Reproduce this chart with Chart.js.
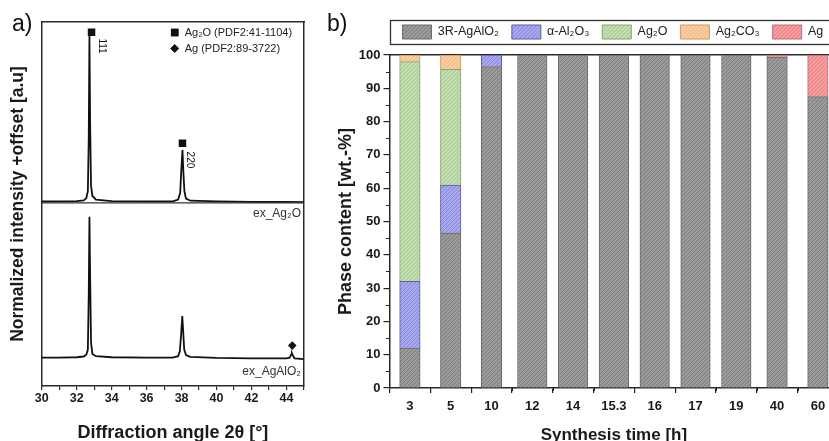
<!DOCTYPE html>
<html><head><meta charset="utf-8">
<script src="https://cdn.jsdelivr.net/npm/chart.js@4.4.1/dist/chart.umd.min.js"></script>
<style>
html,body{margin:0;padding:0;width:829px;height:441px;overflow:hidden;background:#fff;}
#ca{position:absolute;left:0;top:0;}
#cb{position:absolute;left:330px;top:0;}
.lab{position:absolute;font-family:"Liberation Sans",Arial,sans-serif;font-size:23px;color:#111;line-height:1;}
</style></head><body>
<canvas id="ca" width="330" height="441"></canvas>
<canvas id="cb" width="515" height="441"></canvas>
<div class="lab" style="left:12px;top:12px">a)</div>
<div class="lab" style="left:327px;top:12px">b)</div>
<script>
// ---------- Panel a: XRD patterns (2θ in °, normalized intensity + offset) ----------
const ag2oAngle     = [30, 31, 32, 32.4, 32.55, 32.64, 32.69, 32.73, 32.77, 32.82, 32.9, 33.1, 34, 36, 37.5, 37.8, 37.92, 37.98, 38.05, 38.1, 38.16, 38.25, 38.5, 40, 42, 44, 45];
const ag2oIntensity = [0.507, 0.507, 0.508, 0.510, 0.516, 0.535, 0.68, 0.964, 0.72, 0.55, 0.522, 0.512, 0.508, 0.507, 0.507, 0.512, 0.53, 0.59, 0.648, 0.59, 0.535, 0.515, 0.509, 0.507, 0.506, 0.506, 0.505];
const agalo2Angle     = [30, 31, 32, 32.4, 32.55, 32.64, 32.69, 32.73, 32.77, 32.82, 32.9, 33.1, 34, 36, 37.5, 37.8, 37.9, 37.97, 38.04, 38.09, 38.15, 38.25, 38.5, 40, 42, 44, 44.18, 44.26, 44.31, 44.37, 44.46, 45];
const agalo2Intensity = [0.078, 0.078, 0.079, 0.081, 0.086, 0.10, 0.25, 0.465, 0.30, 0.12, 0.088, 0.082, 0.079, 0.078, 0.078, 0.082, 0.095, 0.14, 0.192, 0.15, 0.10, 0.085, 0.080, 0.077, 0.076, 0.076, 0.078, 0.086, 0.090, 0.083, 0.076, 0.074];
const refAg2OAngle  = [32.85, 38.05];
const refAg2OHeight = [0.972, 0.667];
const refAgAngle    = [44.33];
const refAgHeight   = [0.111];
const reflexLabels  = ['111', '220'];
const patternNames  = ['ex_Ag₂O', 'ex_AgAlO₂'];
const refLegend     = ['Ag₂O (PDF2:41-1104)', 'Ag (PDF2:89-3722)'];

// ---------- Panel b: phase content (wt.-%) ----------
const synthesisTimes = ['3', '5', '10', '12', '14', '15.3', '16', '17', '19', '40', '60'];
const phaseNames = ['3R-AgAlO₂', 'α-Al₂O₃', 'Ag₂O', 'Ag₂CO₃', 'Ag'];
const agalo2Phase = [12, 46.5, 96.5, 100, 100, 100, 100, 100, 100, 99.4, 87.5];
const aluminaPhase = [20, 14.4, 3.5, 0, 0, 0, 0, 0, 0, 0, 0];
const ag2oPhase = [66, 34.8, 0, 0, 0, 0, 0, 0, 0, 0, 0];
const ag2co3Phase = [2, 4.3, 0, 0, 0, 0, 0, 0, 0, 0, 0];
const silverPhase = [0, 0, 0, 0, 0, 0, 0, 0, 0, 0.6, 12.5];
const narrowBar = [true, true, true, false, false, false, false, false, false, true, true];
const yMinorTicks = [5, 15, 25, 35, 45, 55, 65, 75, 85, 95];

const F = '"Liberation Sans", Arial, Helvetica, sans-serif';
const INK = '#1a1a1a';

function hatch(bg, fg) {
  const c = document.createElement('canvas'); c.width = 4; c.height = 4;
  const g = c.getContext('2d');
  g.fillStyle = bg; g.fillRect(0, 0, 4, 4);
  g.strokeStyle = fg; g.lineWidth = 1;
  g.beginPath();
  g.moveTo(0, 4); g.lineTo(4, 0);
  g.moveTo(-1, 1); g.lineTo(1, -1);
  g.moveTo(3, 5); g.lineTo(5, 3);
  g.stroke();
  return g.createPattern(c, 'repeat');
}

// ---------------- Chart a ----------------
const annotA = {
  id: 'annotA',
  afterDraw(chart) {
    const {ctx, chartArea: ca, scales: {x, y}} = chart;
    ctx.save();
    // divider between the stacked patterns
    ctx.strokeStyle = '#333'; ctx.lineWidth = 1.3;
    const dy = y.getPixelForValue(0.503);
    ctx.beginPath(); ctx.moveTo(ca.left, dy); ctx.lineTo(ca.right, dy); ctx.stroke();
    // reflex labels (rotated)
    ctx.fillStyle = '#111'; ctx.font = '10px ' + F; ctx.textAlign = 'center'; ctx.textBaseline = 'middle';
    [[33.45, 0.934], [38.45, 0.621]].forEach((p, i) => {
      ctx.save();
      ctx.translate(x.getPixelForValue(p[0]), y.getPixelForValue(p[1]));
      ctx.rotate(Math.PI / 2);
      ctx.fillText(reflexLabels[i], 0, 0);
      ctx.restore();
    });
    // pattern names
    ctx.fillStyle = '#333'; ctx.font = '12px ' + F; ctx.textAlign = 'right';
    ctx.fillText(patternNames[0], ca.right - 3, y.getPixelForValue(0.474));
    ctx.fillText(patternNames[1], ca.right - 3, y.getPixelForValue(0.040));
    // legend
    const lx = ca.left + 133, ly = ca.top + 10.5;
    ctx.fillStyle = '#111';
    Chart.helpers.drawPoint(ctx, {pointStyle: 'rect', radius: 5.3, borderWidth: 0}, lx, ly);
    ctx.fill();
    Chart.helpers.drawPoint(ctx, {pointStyle: 'rectRot', radius: 4.3, borderWidth: 0}, lx, ly + 16);
    ctx.fill();
    ctx.fillStyle = '#222'; ctx.font = '11px ' + F; ctx.textAlign = 'left';
    ctx.fillText(refLegend[0], lx + 10, ly + 0.5);
    ctx.fillText(refLegend[1], lx + 10, ly + 16.5);
    ctx.restore();
  }
};

const axisBorder = {display: true, color: '#2a2a2a', width: 1.5};

new Chart(document.getElementById('ca'), {
  type: 'line',
  data: {
    datasets: [
      {data: ag2oAngle.map((v, i) => ({x: v, y: ag2oIntensity[i]})), borderColor: '#111', borderWidth: 1.8, pointRadius: 0, tension: 0},
      {data: agalo2Angle.map((v, i) => ({x: v, y: agalo2Intensity[i]})), borderColor: '#111', borderWidth: 1.8, pointRadius: 0, tension: 0},
      {data: refAg2OAngle.map((v, i) => ({x: v, y: refAg2OHeight[i]})), showLine: false, pointStyle: 'rect', pointRadius: 5.3, pointBorderWidth: 0, backgroundColor: '#111', borderColor: '#111'},
      {data: refAgAngle.map((v, i) => ({x: v, y: refAgHeight[i]})), showLine: false, pointStyle: 'rectRot', pointRadius: 4.3, pointBorderWidth: 0, backgroundColor: '#111', borderColor: '#111'}
    ]
  },
  options: {
    responsive: false, animation: false, events: [],
    layout: {padding: {top: 22, right: 26, left: 0, bottom: 0}},
    plugins: {legend: {display: false}, tooltip: {enabled: false}},
    scales: {
      x: {
        type: 'linear', min: 30, max: 45,
        ticks: {stepSize: 1, autoSkip: false, maxRotation: 0, padding: 1, color: INK,
          font: {family: F, size: 12.5, weight: 'bold'},
          callback: v => (v % 2 === 0 ? String(v) : '')},
        grid: {display: true, drawOnChartArea: false, tickLength: 4, color: '#2a2a2a', lineWidth: 1.2},
        border: axisBorder,
        title: {display: true, text: 'Diffraction angle 2θ [°]', color: INK,
          font: {family: F, size: 18, weight: 'bold', lineHeight: 0.9}, padding: {top: 0, bottom: 0}},
        afterFit: s => { s.height = 55; }
      },
      xTop: {
        type: 'linear', position: 'top', min: 30, max: 45,
        ticks: {display: false}, grid: {display: false}, border: axisBorder,
        afterFit: s => { s.height = 0; }
      },
      y: {
        type: 'linear', min: 0, max: 1,
        ticks: {display: false}, grid: {display: false}, border: axisBorder,
        title: {display: true, text: 'Normalized intensity +offset [a.u]', color: INK,
          font: {family: F, size: 17.5, weight: 'bold'}, padding: {top: 8, bottom: 0}},
        afterFit: s => { s.width = 41.7; }
      },
      yRight: {
        type: 'linear', position: 'right', min: 0, max: 1,
        ticks: {display: false}, grid: {display: false}, border: axisBorder,
        afterFit: s => { s.width = 0; }
      }
    }
  },
  plugins: [annotA]
});

// ---------------- Chart b ----------------
const fills = [
  hatch('#9b9b9b', '#7b7b7b'),
  hatch('#a8a8f0', '#8686d6'),
  hatch('#c2deae', '#a5c992'),
  hatch('#fccc9c', '#f0b683'),
  hatch('#f69c9f', '#e78287')
];
const edges = ['#6a6a6a', '#5c5ca0', '#86a472', '#c89a6a', '#c06a70'];
const seriesB = [agalo2Phase, aluminaPhase, ag2oPhase, ag2co3Phase, silverPhase];

const datasetsB = [];
seriesB.forEach((vals, k) => {
  [true, false].forEach(narrow => {
    datasetsB.push({
      label: phaseNames[k],
      data: vals.map((v, i) => (narrowBar[i] === narrow && v > 0 ? v : null)),
      backgroundColor: fills[k],
      borderColor: edges[k],
      borderWidth: 1,
      barThickness: narrow ? 20.5 : 29.5,
      inLegend: narrow
    });
  });
});

const extrasB = {
  id: 'extrasB',
  afterDraw(chart) {
    const {ctx, chartArea: ca, scales: {x, y}, legend} = chart;
    ctx.save();
    // legend frame
    const pad = legend.options.labels.padding;
    const top = legend.top + pad - 5;
    ctx.strokeStyle = '#333'; ctx.lineWidth = 1.3;
    ctx.strokeRect(Math.round(ca.left) + 0.5, top + 0.5, 1000, 24);
    // minor ticks
    ctx.strokeStyle = '#222'; ctx.lineWidth = 1;
    ctx.beginPath();
    yMinorTicks.forEach(v => {
      const py = Math.round(y.getPixelForValue(v)) + 0.5;
      ctx.moveTo(ca.left - 3.5, py); ctx.lineTo(ca.left, py);
    });
    for (let i = 1; i < synthesisTimes.length; i++) {
      const px = Math.round((x.getPixelForValue(i - 1) + x.getPixelForValue(i)) / 2) + 0.5;
      ctx.moveTo(px, ca.bottom); ctx.lineTo(px, ca.bottom + 3);
    }
    ctx.stroke();
    ctx.restore();
  }
};

new Chart(document.getElementById('cb'), {
  type: 'bar',
  data: {labels: synthesisTimes, datasets: datasetsB},
  options: {
    responsive: false, animation: false, events: [],
    layout: {padding: {top: 12, right: 6.7, left: 0, bottom: 0}},
    plugins: {
      tooltip: {enabled: false},
      legend: {
        display: true, position: 'top', align: 'start', fullSize: false,
        labels: {
          boxWidth: 29, boxHeight: 14, padding: 13, color: '#222',
          font: {family: F, size: 12.5},
          filter: (item, data) => data.datasets[item.datasetIndex].inLegend
        }
      }
    },
    scales: {
      x: {
        type: 'category', stacked: true, offset: true,
        ticks: {autoSkip: false, maxRotation: 0, padding: 6, color: INK,
          font: {family: F, size: 13, weight: 'bold'}},
        grid: {display: true, drawOnChartArea: false, tickLength: 5, color: '#222', lineWidth: 1.2},
        border: axisBorder,
        title: {display: true, text: 'Synthesis time [h]', color: INK,
          font: {family: F, size: 17, weight: 'bold', lineHeight: 0.7}, padding: {top: 0, bottom: 0}},
        afterFit: s => { s.height = 53; }
      },
      xTop: {
        type: 'category', position: 'top',
        ticks: {display: false}, grid: {display: false}, border: axisBorder,
        afterFit: s => { s.height = 6; }
      },
      y: {
        type: 'linear', stacked: true, min: 0, max: 100,
        ticks: {stepSize: 10, padding: 3, color: INK, font: {family: F, size: 13, weight: 'bold'}},
        grid: {display: true, drawOnChartArea: false, tickLength: 6, color: '#222', lineWidth: 1.2},
        border: axisBorder,
        title: {display: true, text: 'Phase content [wt.-%]', color: INK,
          font: {family: F, size: 18, weight: 'bold'}, padding: {top: 5, bottom: 0}},
        afterFit: s => { s.width = 59.5; }
      }
    }
  },
  plugins: [extrasB]
});
</script>
</body></html>
